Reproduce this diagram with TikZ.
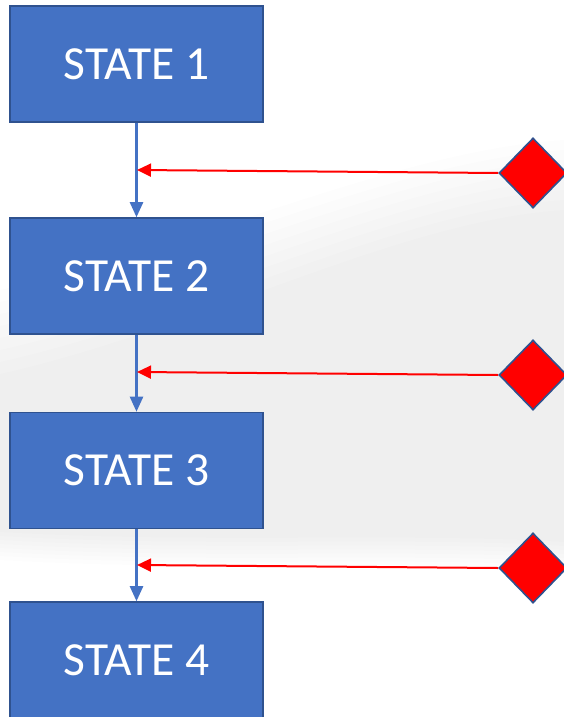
\documentclass[tikz,border=0pt]{standalone}
\usepackage{fontspec}
\setmainfont{Carlito}
\usetikzlibrary{arrows.meta,shapes.geometric}
\definecolor{boxfill}{HTML}{4472C4}
\definecolor{boxedge}{HTML}{2F528F}
\definecolor{signal}{HTML}{FF0000}
\tikzset{
  statebox/.style={rectangle, fill=boxfill, draw=boxedge, line width=1.6pt,
    minimum width=253pt, minimum height=116pt, inner sep=0pt,
    text=white, font=\fontsize{47.5}{50}\selectfont},
  event/.style={diamond, fill=signal, draw=boxedge, line width=1.6pt,
    minimum width=68pt, minimum height=70pt, inner sep=0pt, aspect=1},
  flow/.style={draw=boxfill, line width=2.4pt,
    -{Triangle[length=15pt,width=13pt]}},
  trigger/.style={draw=signal, line width=2pt,
    -{Triangle[length=14pt,width=13pt]}}
}
\begin{document}
\begin{tikzpicture}[x=1pt,y=-1pt]
  \useasboundingbox (0,0) rectangle (564,717);
  \clip (0,0) rectangle (564,717);
  % soft grey backdrop band, built from stacked translucent layers
  \foreach \k in {0,...,7} {
    \fill[black, opacity=0.0065]
      (0,{290+12*\k}) .. controls (200,{245+12*\k}) and (400,{150+10*\k}) .. (564,{140+10*\k})
      -- (564,{570-4*\k}) .. controls (400,{560-4*\k}) and (200,{572-4*\k}) .. (0,{560-4*\k}) -- cycle;
  }
  % states
  \node[statebox] (s1) at (136.5,64)  {STATE 1};
  \node[statebox] (s2) at (136.5,276) {STATE 2};
  \node[statebox] (s3) at (136.5,470.5) {STATE 3};
  \node[statebox] (s4) at (136.5,660) {STATE 4};
  % events
  \node[event] (e1) at (533,173) {};
  \node[event] (e2) at (533,375) {};
  \node[event] (e3) at (533,568) {};
  % junction points on the state flow
  \coordinate (j1) at (137,170);
  \coordinate (j2) at (137,372);
  \coordinate (j3) at (137,565);
  % transitions
  \draw[flow] (s1.south) -- (s2.north);
  \draw[flow] (s2.south) -- (s3.north);
  \draw[flow] (s3.south) -- (s4.north);
  % triggers
  \draw[trigger] (e1.west) -- (j1);
  \draw[trigger] (e2.west) -- (j2);
  \draw[trigger] (e3.west) -- (j3);
\end{tikzpicture}
\end{document}
